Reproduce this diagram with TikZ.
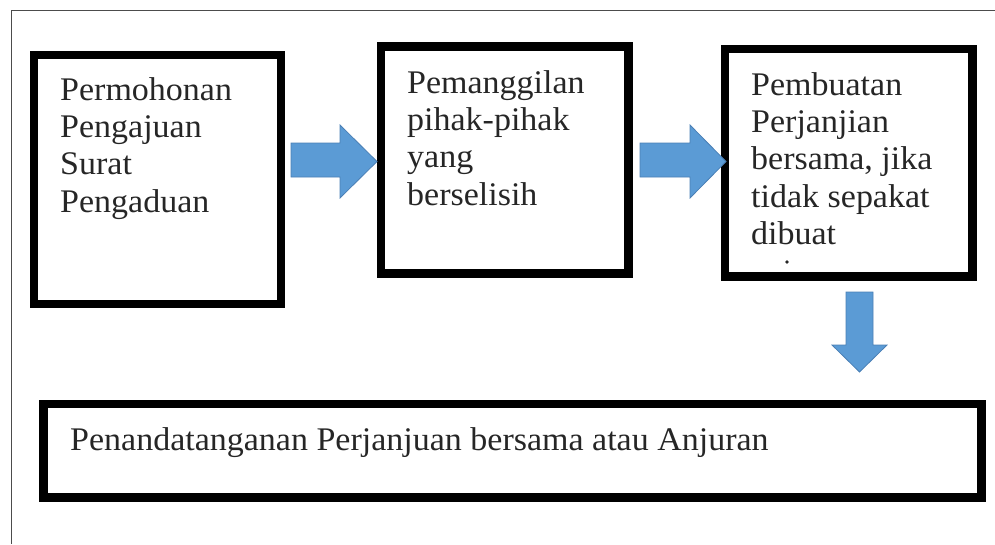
\documentclass[tikz,border=0pt]{standalone}
\usepackage{fontspec}
\setmainfont[FakeStretch=1.03]{Liberation Serif}
\begin{document}
\begin{tikzpicture}[x=1pt,y=-1pt,
  box/.style={draw=black,line width=8.5pt,minimum width=#1,inner sep=0pt},
  lbl/.style={anchor=north west,inner sep=0pt,align=left,
    font=\fontsize{33pt}{37.3pt}\selectfont,text=black!85},
  blockarrow/.style={fill=arrowblue,draw=arrowedge,line width=0.8pt,line join=miter}]
\definecolor{arrowblue}{HTML}{5B9BD5}
\definecolor{arrowedge}{HTML}{4A7FB5}
\useasboundingbox (0,0) rectangle (995,544);
% outer frame lines
\coordinate (ftl) at (11.5,10.5);
\coordinate (ftr) at (995,10.5);
\coordinate (fbl) at (11.5,544);
\draw[line width=1.3pt,black!70] (ftr) -- (ftl) -- (fbl);
% boxes
\node[box, minimum width=247pt, minimum height=249pt] (b1) at (157.5,179.5) {};
\node[box, minimum width=247.5pt, minimum height=227pt] (b2) at (504.75,160) {};
\node[box, minimum width=247.5pt, minimum height=227.5pt] (b3) at (848.75,162.75) {};
\node[box, minimum width=938pt, minimum height=93.5pt] (b4) at (512.5,450.75) {};
% texts
\node[lbl] (t1) at (60,74) {\rule{0pt}{26pt}Permohonan\\Pengajuan\\Surat\\Pengaduan};
\node[lbl] (t2) at (407,67) {\rule{0pt}{26pt}Pemanggilan\\pihak-pihak\\yang\\berselisih};
\node[lbl] (t3) at (751,69) {\rule{0pt}{26pt}Pembuatan\\Perjanjian\\bersama, jika\\tidak sepakat\\dibuat};
\fill[black!85] (787,262) circle (1.9pt);
\node[lbl] (t4) at (70,424) {\rule{0pt}{26pt}Penandatanganan Perjanjuan bersama atau Anjuran};
% block arrows
\draw[blockarrow] (291,143) -- (340,143) -- (340,125) -- (377,161.5) -- (340,198) -- (340,177) -- (291,177) -- cycle;
\draw[blockarrow] (640,143) -- (690,143) -- (690,125) -- (726,161.5) -- (690,198) -- (690,177) -- (640,177) -- cycle;
\draw[blockarrow] (846,292) -- (873,292) -- (873,345) -- (887,345) -- (859.5,372) -- (832,345) -- (846,345) -- cycle;
\end{tikzpicture}
\end{document}
